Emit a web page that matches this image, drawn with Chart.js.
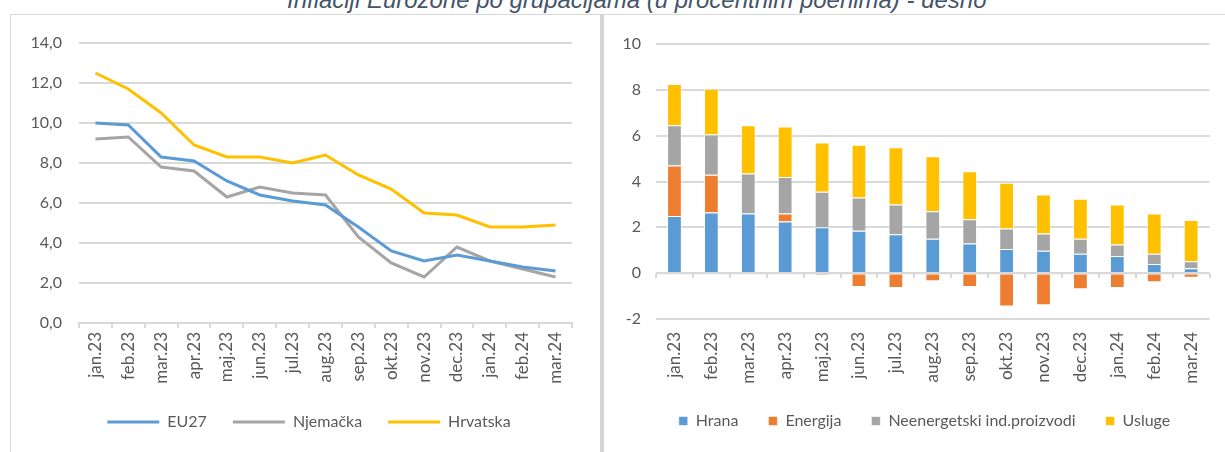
<!DOCTYPE html>
<html>
<head>
<meta charset="utf-8">
<script src="https://cdn.jsdelivr.net/npm/chart.js"></script>
<style>
  body { margin: 0; background: #fff; width: 1225px; height: 452px; overflow: hidden; position: relative; }
  #title { position: absolute; left: 287px; white-space: nowrap; font-family: "Liberation Sans", Arial, sans-serif;
           font-style: italic; color: #44546A; line-height: 1; }
  #frameTop { position: absolute; left: 10px; top: 14px; width: 1215px; height: 0; border-top: 1px solid #d9d9d9; }
  #frameLeft { position: absolute; left: 10px; top: 14px; width: 0; height: 438px; border-left: 1px solid #d9d9d9; }
  #sep { position: absolute; left: 600px; top: 14px; width: 4px; height: 438px; background: #d4d4d4; }
  #leftCanvas { position: absolute; left: 11px; top: 15px; }
  #rightCanvas { position: absolute; left: 605px; top: 15px; }
</style>
</head>
<body>
<div id="title"><span id="titleText">Inflaciji Eurozone po grupacijama (u procentnim poenima) - desno</span></div>
<div id="frameTop"></div>
<div id="frameLeft"></div>
<div id="sep"></div>
<canvas id="leftCanvas" width="589" height="437"></canvas>
<canvas id="rightCanvas" width="620" height="437"></canvas>
<script>
const months = ['jan.23', 'feb.23', 'mar.23', 'apr.23', 'maj.23', 'jun.23', 'jul.23', 'aug.23',
                'sep.23', 'okt.23', 'nov.23', 'dec.23', 'jan.24', 'feb.24', 'mar.24'];

// lijevo: inflacija (%)
const eu27     = [10.0, 9.9, 8.3, 8.1, 7.1, 6.4, 6.1, 5.9, 4.8, 3.6, 3.1, 3.4, 3.1, 2.8, 2.6];
const njemacka = [9.2, 9.3, 7.8, 7.6, 6.3, 6.8, 6.5, 6.4, 4.3, 3.0, 2.3, 3.8, 3.1, 2.7, 2.3];
const hrvatska = [12.5, 11.7, 10.5, 8.9, 8.3, 8.3, 8.0, 8.4, 7.4, 6.7, 5.5, 5.4, 4.8, 4.8, 4.9];
const leftTicks = [0, 2, 4, 6, 8, 10, 12, 14];

// desno: doprinosi po grupacijama (p.p.)
const hrana    = [2.5, 2.65, 2.6, 2.25, 2.0, 1.85, 1.7, 1.5, 1.3, 1.05, 0.98, 0.85, 0.75, 0.4, 0.22];
const energija = [2.2, 1.65, -0.05, 0.35, -0.1, -0.6, -0.65, -0.35, -0.6, -1.45, -1.4, -0.7, -0.65, -0.4, -0.2];
const neig     = [1.75, 1.75, 1.75, 1.6, 1.55, 1.45, 1.3, 1.2, 1.05, 0.9, 0.75, 0.65, 0.5, 0.45, 0.3];
const usluge   = [1.8, 2.0, 2.1, 2.2, 2.15, 2.3, 2.5, 2.4, 2.1, 2.0, 1.7, 1.75, 1.75, 1.75, 1.8];
const rightTicks = [-2, 0, 2, 4, 6, 8, 10];

// naslov - prilagodi širinu
(function () {
    const t = document.getElementById('title');
    const s = document.getElementById('titleText');
    let fs = 20;
    t.style.fontSize = fs + 'px';
    fs = fs * 700 / s.getBoundingClientRect().width;
    t.style.fontSize = fs + 'px';
    t.style.top = (8 - 0.8465 * fs) + 'px';
})();

const font = { family: 'Lato, "Open Sans", sans-serif', size: 16 };
const xFont = { family: font.family, size: 17 };
const grey = '#595959';
const gridCol = '#d9d9d9';

Chart.defaults.font.family = font.family;
Chart.defaults.color = grey;

// pomakni legendu vodoravno
function shiftLegend(dx) {
    return {
        id: 'shiftLegend',
        afterLayout(chart) {
            chart.legend.left += dx;
            chart.legend.right += dx;
        }
    };
}

new Chart(document.getElementById('leftCanvas'), {
    type: 'line',
    data: {
        labels: months,
        datasets: [
            { label: 'EU27', data: eu27, borderColor: '#5B9BD5', backgroundColor: '#5B9BD5', borderWidth: 3 },
            { label: 'Njemačka', data: njemacka, borderColor: '#A5A5A5', backgroundColor: '#A5A5A5', borderWidth: 3 },
            { label: 'Hrvatska', data: hrvatska, borderColor: '#FFC000', backgroundColor: '#FFC000', borderWidth: 3 }
        ]
    },
    plugins: [shiftLegend(17.5)],
    options: {
        responsive: false,
        animation: false,
        elements: { point: { radius: 0 }, line: { tension: 0 } },
        layout: { padding: { top: 28, right: 28, bottom: 12, left: 0 } },
        plugins: {
            tooltip: { enabled: false },
            legend: {
                position: 'bottom',
                labels: { usePointStyle: true, pointStyle: 'line', pointStyleWidth: 52, padding: 26, font: font, color: grey }
            }
        },
        scales: {
            x: {
                offset: true,
                grid: { offset: true, drawOnChartArea: false, color: gridCol, lineWidth: 2, tickLength: 5 },
                border: { color: gridCol, width: 2 },
                ticks: { minRotation: 90, maxRotation: 90, font: xFont, color: grey, padding: 4 },
                afterFit: function (scale) { scale.height = 65; }
            },
            y: {
                min: 0, max: 14,
                afterBuildTicks: function (scale) { scale.ticks = leftTicks.map(v => ({ value: v })); },
                grid: { color: gridCol, lineWidth: 2, drawTicks: false },
                border: { display: false },
                ticks: {
                    font: font, color: grey, padding: 17,
                    callback: v => v.toFixed(1).replace('.', ',')
                },
                afterFit: function (scale) { scale.width = 68; }
            }
        }
    }
});

// tick oznake na osi u nuli (desni grafikon)
const zeroAxis = {
    id: 'zeroAxis',
    afterDatasetsDraw(chart) {
        const x = chart.scales.x, y = chart.scales.y;
        const y0 = y.getPixelForValue(0);
        const step = (x.right - x.left) / months.length;
        const ctx = chart.ctx;
        ctx.save();
        ctx.strokeStyle = gridCol;
        ctx.lineWidth = 2;
        ctx.beginPath();
        ctx.moveTo(x.left, y0);
        ctx.lineTo(x.right, y0);
        for (let i = 0; i <= months.length; i++) {
            const px = Math.round(x.left + i * step);
            ctx.moveTo(px, y0);
            ctx.lineTo(px, y0 + 5);
        }
        ctx.stroke();
        ctx.restore();
    }
};

const barBorder = 'rgba(255,255,255,0.6)';
new Chart(document.getElementById('rightCanvas'), {
    type: 'bar',
    data: {
        labels: months,
        datasets: [
            { label: 'Hrana', data: hrana, backgroundColor: '#5B9BD5' },
            { label: 'Energija', data: energija, backgroundColor: '#ED7D31' },
            { label: 'Neenergetski ind.proizvodi', data: neig, backgroundColor: '#A5A5A5' },
            { label: 'Usluge', data: usluge, backgroundColor: '#FFC000' }
        ]
    },
    plugins: [zeroAxis, shiftLegend(16.5)],
    options: {
        responsive: false,
        animation: false,
        datasets: { bar: { barPercentage: 0.4, categoryPercentage: 1, borderWidth: 1, borderColor: barBorder } },
        layout: { padding: { top: 29, right: 14, bottom: 13, left: 0 } },
        plugins: {
            tooltip: { enabled: false },
            legend: {
                position: 'bottom',
                labels: { boxWidth: 9, boxHeight: 9, padding: 30, font: font, color: grey }
            }
        },
        scales: {
            x: {
                stacked: true,
                grid: { display: false, drawTicks: false },
                border: { display: false },
                ticks: { minRotation: 90, maxRotation: 90, font: xFont, color: grey, padding: 13 },
                afterFit: function (scale) { scale.height = 64; }
            },
            y: {
                stacked: true,
                min: -2, max: 10,
                afterBuildTicks: function (scale) { scale.ticks = rightTicks.map(v => ({ value: v })); },
                grid: { color: gridCol, lineWidth: 2, drawTicks: false },
                border: { display: false },
                ticks: { font: font, color: grey, padding: 15 },
                afterFit: function (scale) { scale.width = 51; }
            }
        }
    }
});
</script>
</body>
</html>
